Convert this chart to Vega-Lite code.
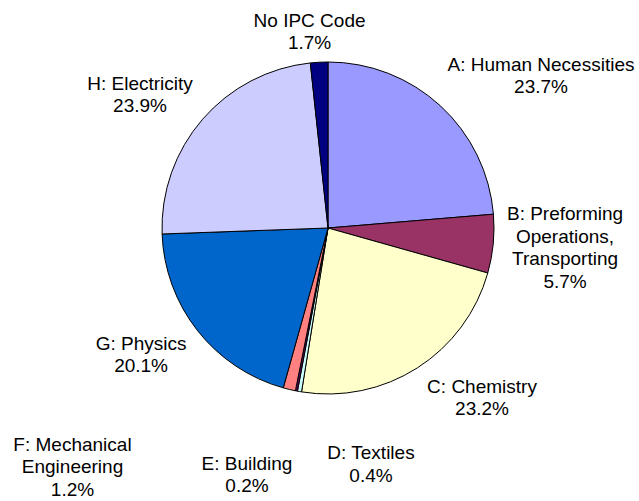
{
  "$schema": "https://vega.github.io/schema/vega-lite/v6.json",
  "width": 622,
  "height": 456,
  "autosize": "none",
  "padding": {"left": 17, "top": 0, "right": 0, "bottom": 45},
  "background": "white",
  "config": {"view": {"stroke": null}},
  "data": {
    "values": [
      {"category": "A: Human Necessities", "share": 23.7, "label": "A: Human Necessities\n23.7%"},
      {"category": "B: Preforming Operations, Transporting", "share": 5.7, "label": "B: Preforming\nOperations,\nTransporting\n5.7%"},
      {"category": "C: Chemistry", "share": 23.2, "label": "C: Chemistry\n23.2%"},
      {"category": "D: Textiles", "share": 0.4, "label": "D: Textiles\n0.4%"},
      {"category": "E: Building", "share": 0.2, "label": "E: Building\n0.2%"},
      {"category": "F: Mechanical Engineering", "share": 1.2, "label": "F: Mechanical\nEngineering\n1.2%"},
      {"category": "G: Physics", "share": 20.1, "label": "G: Physics\n20.1%"},
      {"category": "H: Electricity", "share": 23.9, "label": "H: Electricity\n23.9%"},
      {"category": "No IPC Code", "share": 1.7, "label": "No IPC Code\n1.7%"}
    ]
  },
  "layer": [
    {
      "mark": {"type": "arc", "outerRadius": 166, "stroke": "black", "strokeWidth": 1},
      "encoding": {
        "theta": {"field": "share", "type": "quantitative", "stack": true},
        "order": {"field": "category", "type": "ordinal", "sort": "ascending"},
        "color": {
          "field": "category",
          "type": "nominal",
          "legend": null,
          "scale": {
            "domain": ["A: Human Necessities", "B: Preforming Operations, Transporting", "C: Chemistry", "D: Textiles", "E: Building", "F: Mechanical Engineering", "G: Physics", "H: Electricity", "No IPC Code"],
            "range": ["#9999FF", "#993366", "#FFFFCC", "#CCFFFF", "#660066", "#FF8080", "#0066CC", "#CCCCFF", "#000080"]
          }
        }
      }
    },
    {
      "mark": {"type": "text", "radius": 166, "dx": 100.6, "dy": -41, "align": "center", "baseline": "middle", "font": "Liberation Sans", "fontSize": 19, "lineHeight": 22.5, "lineBreak": "\n", "fill": "black"},
      "encoding": {
        "theta": {"field": "share", "type": "quantitative", "stack": true},
        "order": {"field": "category", "type": "ordinal", "sort": "ascending"},
        "detail": {"field": "category", "type": "nominal"},
        "text": {"condition": {"test": "datum.category === 'A: Human Necessities'", "field": "label", "type": "nominal"}, "value": ""}
      }
    },
    {
      "mark": {"type": "text", "radius": 166, "dx": 71.8, "dy": -29.6, "align": "center", "baseline": "middle", "font": "Liberation Sans", "fontSize": 19, "lineHeight": 22.5, "lineBreak": "\n", "fill": "black"},
      "encoding": {
        "theta": {"field": "share", "type": "quantitative", "stack": true},
        "order": {"field": "category", "type": "ordinal", "sort": "ascending"},
        "detail": {"field": "category", "type": "nominal"},
        "text": {"condition": {"test": "datum.category === 'B: Preforming Operations, Transporting'", "field": "label", "type": "nominal"}, "value": ""}
      }
    },
    {
      "mark": {"type": "text", "radius": 166, "dx": 64.7, "dy": 18.9, "align": "center", "baseline": "middle", "font": "Liberation Sans", "fontSize": 19, "lineHeight": 22.5, "lineBreak": "\n", "fill": "black"},
      "encoding": {
        "theta": {"field": "share", "type": "quantitative", "stack": true},
        "order": {"field": "category", "type": "ordinal", "sort": "ascending"},
        "detail": {"field": "category", "type": "nominal"},
        "text": {"condition": {"test": "datum.category === 'C: Chemistry'", "field": "label", "type": "nominal"}, "value": ""}
      }
    },
    {
      "mark": {"type": "text", "radius": 166, "dx": 71.5, "dy": 61.7, "align": "center", "baseline": "middle", "font": "Liberation Sans", "fontSize": 19, "lineHeight": 22.5, "lineBreak": "\n", "fill": "black"},
      "encoding": {
        "theta": {"field": "share", "type": "quantitative", "stack": true},
        "order": {"field": "category", "type": "ordinal", "sort": "ascending"},
        "detail": {"field": "category", "type": "nominal"},
        "text": {"condition": {"test": "datum.category === 'D: Textiles'", "field": "label", "type": "nominal"}, "value": ""}
      }
    },
    {
      "mark": {"type": "text", "radius": 166, "dx": -49.4, "dy": 72.7, "align": "center", "baseline": "middle", "font": "Liberation Sans", "fontSize": 19, "lineHeight": 22.5, "lineBreak": "\n", "fill": "black"},
      "encoding": {
        "theta": {"field": "share", "type": "quantitative", "stack": true},
        "order": {"field": "category", "type": "ordinal", "sort": "ascending"},
        "detail": {"field": "category", "type": "nominal"},
        "text": {"condition": {"test": "datum.category === 'E: Building'", "field": "label", "type": "nominal"}, "value": ""}
      }
    },
    {
      "mark": {"type": "text", "radius": 166, "dx": -216.8, "dy": 55.1, "align": "center", "baseline": "middle", "font": "Liberation Sans", "fontSize": 19, "lineHeight": 22.5, "lineBreak": "\n", "fill": "black"},
      "encoding": {
        "theta": {"field": "share", "type": "quantitative", "stack": true},
        "order": {"field": "category", "type": "ordinal", "sort": "ascending"},
        "detail": {"field": "category", "type": "nominal"},
        "text": {"condition": {"test": "datum.category === 'F: Mechanical Engineering'", "field": "label", "type": "nominal"}, "value": ""}
      }
    },
    {
      "mark": {"type": "text", "radius": 166, "dx": -56.5, "dy": 13.1, "align": "center", "baseline": "middle", "font": "Liberation Sans", "fontSize": 19, "lineHeight": 22.5, "lineBreak": "\n", "fill": "black"},
      "encoding": {
        "theta": {"field": "share", "type": "quantitative", "stack": true},
        "order": {"field": "category", "type": "ordinal", "sort": "ascending"},
        "detail": {"field": "category", "type": "nominal"},
        "text": {"condition": {"test": "datum.category === 'G: Physics'", "field": "label", "type": "nominal"}, "value": ""}
      }
    },
    {
      "mark": {"type": "text", "radius": 166, "dx": -62.5, "dy": -35.5, "align": "center", "baseline": "middle", "font": "Liberation Sans", "fontSize": 19, "lineHeight": 22.5, "lineBreak": "\n", "fill": "black"},
      "encoding": {
        "theta": {"field": "share", "type": "quantitative", "stack": true},
        "order": {"field": "category", "type": "ordinal", "sort": "ascending"},
        "detail": {"field": "category", "type": "nominal"},
        "text": {"condition": {"test": "datum.category === 'H: Electricity'", "field": "label", "type": "nominal"}, "value": ""}
      }
    },
    {
      "mark": {"type": "text", "radius": 166, "dx": -9.6, "dy": -41.4, "align": "center", "baseline": "middle", "font": "Liberation Sans", "fontSize": 19, "lineHeight": 22.5, "lineBreak": "\n", "fill": "black"},
      "encoding": {
        "theta": {"field": "share", "type": "quantitative", "stack": true},
        "order": {"field": "category", "type": "ordinal", "sort": "ascending"},
        "detail": {"field": "category", "type": "nominal"},
        "text": {"condition": {"test": "datum.category === 'No IPC Code'", "field": "label", "type": "nominal"}, "value": ""}
      }
    }
  ]
}
